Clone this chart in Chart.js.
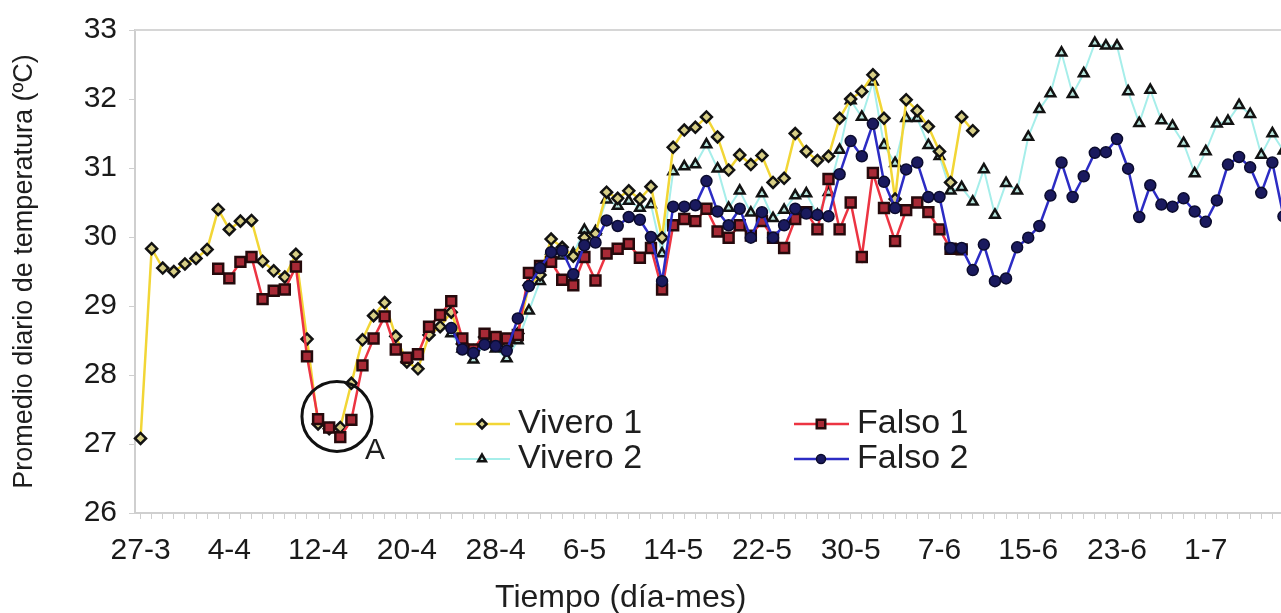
<!DOCTYPE html>
<html>
<head>
<meta charset="utf-8">
<script src="https://cdn.jsdelivr.net/npm/chart.js@4.4.0/dist/chart.umd.min.js"></script>
<style>
  html, body { margin: 0; padding: 0; background: #fff; overflow: hidden; }
  #chart { display: block; }
</style>
</head>
<body>
<canvas id="chart" width="1300" height="613"></canvas>
<script>
const FONT = '"Liberation Sans", Arial, sans-serif';

// x labels shown every 8 days, starting 27-3
const tickLabels = ["27-3", "4-4", "12-4", "20-4", "28-4", "6-5", "14-5", "22-5", "30-5", "7-6", "15-6", "23-6", "1-7"];
const tickEvery = 8;
const dayCount = 104;
const days = Array.from({ length: dayCount }, (_, i) => i);

// daily means (first day of each series noted)
const vivero1Start = 0;
const vivero1 = [
  27.08, 29.83, 29.55, 29.50, 29.61, 29.69, 29.82, 30.40, 30.11, 30.23,
  30.24, 29.65, 29.51, 29.42, 29.75, 28.52, 27.29, 27.22, 27.24, 27.88,
  28.51, 28.86, 29.05, 28.56, 28.19, 28.09, 28.58, 28.70, 28.91, 28.45,
  28.35, 28.55, 28.48, 28.42, 28.60, 29.30, 29.45, 29.97, 29.85, 29.72,
  29.99, 30.05, 30.65, 30.56, 30.67, 30.55, 30.73, 29.99, 31.30, 31.55,
  31.59, 31.74, 31.45, 30.97, 31.19, 31.05, 31.18, 30.79, 30.85, 31.50,
  31.24, 31.11, 31.17, 31.72, 32.00, 32.11, 32.35, 31.72, 30.55, 31.99,
  31.83, 31.60, 31.24, 30.79, 31.74, 31.54
];

const falso1Start = 7;
const falso1 = [
  29.54, 29.40, 29.64,
  29.71, 29.10, 29.22, 29.24, 29.57, 28.27, 27.36, 27.24, 27.10, 27.35,
  28.14, 28.53, 28.85, 28.37, 28.25, 28.30, 28.70, 28.87, 29.07, 28.53,
  28.37, 28.60, 28.55, 28.53, 28.58, 29.48, 29.58, 29.64, 29.38, 29.30,
  29.71, 29.37, 29.76, 29.83, 29.90, 29.70, 29.84, 29.24, 30.17, 30.26,
  30.23, 30.41, 30.08, 29.99, 30.17, 30.02, 30.23, 29.99, 29.84, 30.26,
  30.36, 30.11, 30.84, 30.11, 30.50, 29.71, 30.93, 30.42, 29.94, 30.39,
  30.50, 30.36, 30.11, 29.83, 29.82
];

const vivero2Start = 28;
const vivero2 = [
  28.60, 28.38,
  28.22, 28.45, 28.38, 28.24, 28.50, 28.93, 29.36, 29.80, 29.73, 29.76,
  30.10, 30.08, 30.54, 30.45, 30.52, 30.42, 30.47, 29.76, 30.95, 31.02,
  31.05, 31.34, 30.99, 30.42, 30.67, 30.35, 30.63, 30.27, 30.39, 30.60,
  30.63, 30.32, 30.65, 31.26, 31.98, 31.74, 32.25, 31.33, 31.07, 31.72,
  31.72, 31.33, 31.17, 30.67, 30.72, 30.51, 30.98, 30.32, 30.78, 30.67,
  31.45, 31.85, 32.08, 32.67, 32.07, 32.37, 32.81, 32.77, 32.77, 32.11,
  31.65, 32.13, 31.69, 31.61, 31.36, 30.92, 31.24, 31.64, 31.68, 31.91,
  31.78, 31.19, 31.50, 31.25
];

const falso2Start = 28;
const falso2 = [
  28.68, 28.37,
  28.32, 28.44, 28.42, 28.35, 28.82, 29.29, 29.55, 29.78, 29.80, 29.46,
  29.88, 29.92, 30.24, 30.16, 30.29, 30.25, 30.00, 29.36, 30.44, 30.44,
  30.46, 30.81, 30.37, 30.17, 30.41, 29.99, 30.36, 29.99, 30.17, 30.41,
  30.34, 30.32, 30.30, 30.91, 31.39, 31.17, 31.64, 30.80, 30.42, 30.98,
  31.08, 30.58, 30.58, 29.84, 29.84, 29.52, 29.89, 29.36, 29.40, 29.85,
  29.99, 30.16, 30.60, 31.08, 30.58, 30.88, 31.22, 31.23, 31.42, 30.99,
  30.29, 30.75, 30.47, 30.44, 30.56, 30.37, 30.22, 30.53, 31.05, 31.16,
  31.01, 30.64, 31.08, 30.30
];

function padFrom(start, values) {
  return Array(start).fill(null).concat(values);
}

const datasets = [
  {
    label: "Vivero 1",
    data: padFrom(vivero1Start, vivero1),
    borderColor: "#F2D636",
    borderWidth: 2.5,
    pointStyle: "rectRot",
    pointRadius: 5.5,
    pointBorderWidth: 2.5,
    pointBorderColor: "#121212",
    pointBackgroundColor: "#D8CF86",
    order: 3
  },
  {
    label: "Vivero 2",
    data: padFrom(vivero2Start, vivero2),
    borderColor: "#A6EEEA",
    borderWidth: 2,
    pointStyle: "triangle",
    pointRadius: 5.5,
    pointBorderWidth: 2.5,
    pointBorderColor: "#121212",
    pointBackgroundColor: "#B9E6DE",
    order: 4
  },
  {
    label: "Falso 1",
    data: padFrom(falso1Start, falso1),
    borderColor: "#EC3442",
    borderWidth: 2.5,
    pointStyle: "rect",
    pointRadius: 7,
    pointBorderWidth: 2.5,
    pointBorderColor: "#250A0C",
    pointBackgroundColor: "#A82A36",
    order: 2
  },
  {
    label: "Falso 2",
    data: padFrom(falso2Start, falso2),
    borderColor: "#2C2CC4",
    borderWidth: 2.5,
    pointStyle: "circle",
    pointRadius: 5.5,
    pointBorderWidth: 1.5,
    pointBorderColor: "#0B0B2E",
    pointBackgroundColor: "#1A1A5E",
    order: 1
  }
];

function drawMarker(ctx, ds, x, y) {
  ctx.fillStyle = ds.pointBackgroundColor;
  ctx.strokeStyle = ds.pointBorderColor;
  ctx.lineWidth = ds.pointBorderWidth;
  Chart.helpers.drawPoint(ctx, {
    pointStyle: ds.pointStyle,
    radius: ds.pointRadius - 1,
    borderWidth: ds.pointBorderWidth,
    rotation: 0
  }, x, y);
}

// frame top line, circle "A", legend and x title
const overlayPlugin = {
  id: "overlay",
  afterDraw(chart) {
    const { ctx, chartArea, scales: { x, y } } = chart;
    ctx.save();

    ctx.strokeStyle = "#d6d6d6";
    ctx.lineWidth = 2;
    ctx.beginPath();
    ctx.moveTo(chartArea.left, chartArea.top);
    ctx.lineTo(chartArea.right, chartArea.top);
    ctx.stroke();

    // circled minimum
    const x17 = x.getPixelForValue(17);
    const x18 = x.getPixelForValue(18);
    const cx = x17 + 0.7 * (x18 - x17);
    const cy = y.getPixelForValue(27.4);
    ctx.strokeStyle = "#111";
    ctx.lineWidth = 3;
    ctx.beginPath();
    ctx.arc(cx, cy, 35, 0, Math.PI * 2);
    ctx.stroke();
    ctx.fillStyle = "#1e1e1e";
    ctx.font = "30px " + FONT;
    ctx.textAlign = "left";
    ctx.textBaseline = "alphabetic";
    ctx.fillText("A", cx + 28, cy + 43);

    // legend, two columns
    const cols = [455, 794];
    const rows = [424, 459];
    const slots = [[0, 0], [0, 1], [1, 0], [1, 1]];
    ctx.font = "34px " + FONT;
    ctx.textBaseline = "middle";
    datasets.forEach((ds, i) => {
      const lx = cols[slots[i][0]];
      const ly = rows[slots[i][1]];
      ctx.strokeStyle = ds.borderColor;
      ctx.lineWidth = ds.borderWidth;
      ctx.beginPath();
      ctx.moveTo(lx, ly);
      ctx.lineTo(lx + 55, ly);
      ctx.stroke();
      drawMarker(ctx, ds, lx + 27, ly);
      ctx.fillStyle = "#1e1e1e";
      ctx.fillText(ds.label, lx + 63, ly);
    });

    // x axis title
    ctx.font = "32px " + FONT;
    ctx.textAlign = "center";
    ctx.textBaseline = "alphabetic";
    ctx.fillText("Tiempo (día-mes)", x.getPixelForValue(43) + 3, 607);

    ctx.restore();
  }
};

const ctx = document.getElementById("chart").getContext("2d");
new Chart(ctx, {
  type: "line",
  data: { labels: days, datasets: datasets },
  options: {
    responsive: false,
    animation: false,
    layout: { padding: { top: 17, right: 11, bottom: 0, left: 0 } },
    elements: { line: { tension: 0 } },
    plugins: {
      legend: { display: false },
      tooltip: { enabled: false }
    },
    scales: {
      x: {
        type: "category",
        offset: true,
        grid: { drawOnChartArea: false, tickLength: 6, color: "#cfcfcf" },
        border: { color: "#cfcfcf", width: 2 },
        ticks: {
          autoSkip: false,
          maxRotation: 0,
          padding: 14,
          color: "#1a1a1a",
          font: { family: FONT, size: 30 },
          callback: (value, index) =>
            index % tickEvery === 0 && tickLabels[index / tickEvery] ? tickLabels[index / tickEvery] : ""
        },
        afterFit: (scale) => { scale.height = 100; }
      },
      y: {
        min: 26,
        max: 33,
        grid: { drawOnChartArea: false, tickLength: 6, color: "#cfcfcf" },
        border: { color: "#cfcfcf", width: 2 },
        ticks: {
          stepSize: 1,
          padding: 12,
          color: "#1a1a1a",
          font: { family: FONT, size: 30 }
        },
        title: {
          display: true,
          text: "Promedio diario de temperatura (ºC)",
          color: "#1e1e1e",
          font: { family: FONT, size: 27 },
          padding: { top: 8, bottom: 0 }
        },
        afterFit: (scale) => { scale.width = 135; }
      }
    }
  },
  plugins: [overlayPlugin]
});
</script>
</body>
</html>
